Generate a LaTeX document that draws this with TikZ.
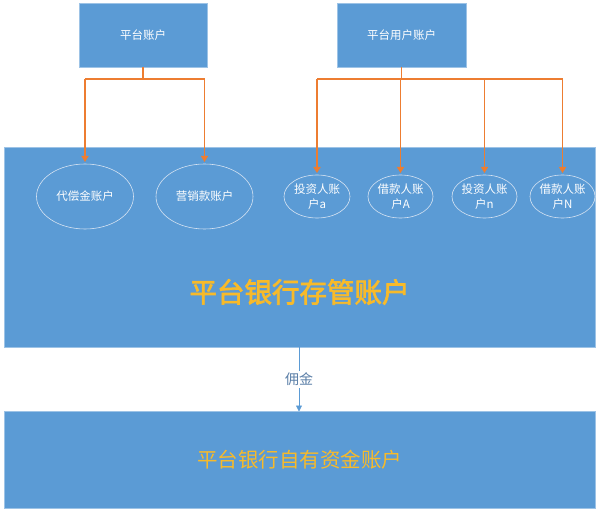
\documentclass[tikz,border=0pt]{standalone}
\usepackage{fontspec}
\setmainfont{Noto Sans CJK SC}
\newfontfamily\titlefont{Noto Sans CJK SC}[FakeBold=2.5]
\usetikzlibrary{arrows.meta,shapes.geometric}
\definecolor{boxblue}{HTML}{5B9BD5}
\definecolor{boxedge}{HTML}{9DC3E6}
\definecolor{orng}{HTML}{ED7D31}
\definecolor{gold}{HTML}{F7BA2A}
\definecolor{lblue}{HTML}{5B7FA8}
\definecolor{ellline}{HTML}{D6E3F2}
\tikzset{
  box/.style={draw=boxedge, line width=0.6pt, fill=boxblue, inner sep=0pt, outer sep=0pt, text=white, font=\fontsize{11.5}{14}\selectfont},
  acct/.style={ellipse, draw=ellline, line width=0.6pt, inner sep=0pt, outer sep=0pt, text=white, align=center, font=\fontsize{11.5}{15}\selectfont},
  orgline/.style={draw=orng, line width=1.8pt},
  orgarr/.style={orgline, -{Triangle[length=6pt,width=7pt]}, shorten >=2pt},
  blarr/.style={draw=boxblue, line width=0.8pt, -{Triangle[length=6pt,width=6pt]}}
}
\begin{document}
\begin{tikzpicture}[x=1pt,y=-1pt]
\useasboundingbox (0,0) rectangle (600,516);
% top boxes
\node[box, minimum width=128pt, minimum height=64pt] (pa) at (143,35) {平台账户};
\node[box, minimum width=129pt, minimum height=64pt] (pu) at (401.5,35) {平台用户账户};
% big boxes
\node[box, minimum width=591pt, minimum height=200pt] (cg) at (299.5,247) {};
\node[box, minimum width=591pt, minimum height=97pt] (zy) at (299.5,460) {};
\node[text=gold, font=\fontsize{27.5}{32}\titlefont] (cgt) at (299.5,292) {平台银行存管账户};
\node[text=gold, font=\fontsize{20.5}{24}\selectfont] (zyt) at (299.5,460) {平台银行自有资金账户};
% ellipses
\node[acct, minimum width=97pt, minimum height=65pt] (e1) at (85,196.5) {代偿金账户};
\node[acct, minimum width=97pt, minimum height=65pt] (e2) at (204.5,196.5) {营销款账户};
\node[acct, minimum width=66pt, minimum height=43pt] (e3) at (317,196.5) {投资人账\\户a};
\node[acct, minimum width=65pt, minimum height=43pt] (e4) at (400.5,196.5) {借款人账\\户A};
\node[acct, minimum width=65pt, minimum height=43pt] (e5) at (484.5,196.5) {投资人账\\户n};
\node[acct, minimum width=65pt, minimum height=43pt] (e6) at (562.5,196.5) {借款人账\\户N};
% orange connectors
\coordinate (j1) at (143,79);
\coordinate (j2) at (401.5,79);
\draw[orgline] (pa.south) -- (j1);
\draw[orgline] (e1.north |- j1) -- (e2.north |- j1);
\draw[orgarr] (e1.north |- j1) -- (e1.north);
\draw[orgarr] (e2.north |- j1) -- (e2.north);
\draw[orgline] (pu.south) -- (j2);
\draw[orgline] (e3.north |- j2) -- (e6.north |- j2);
\draw[orgarr] (e3.north |- j2) -- (e3.north);
\draw[orgarr] (e4.north |- j2) -- (e4.north);
\draw[orgarr] (e5.north |- j2) -- (e5.north);
\draw[orgarr] (e6.north |- j2) -- (e6.north);
% commission arrow
\draw[blarr] (cg.south -| 299,0) -- node[fill=white, text=lblue, inner sep=2pt, font=\fontsize{14}{16}\selectfont] (yj) {佣金} (zy.north -| 299,0);
\end{tikzpicture}
\end{document}
